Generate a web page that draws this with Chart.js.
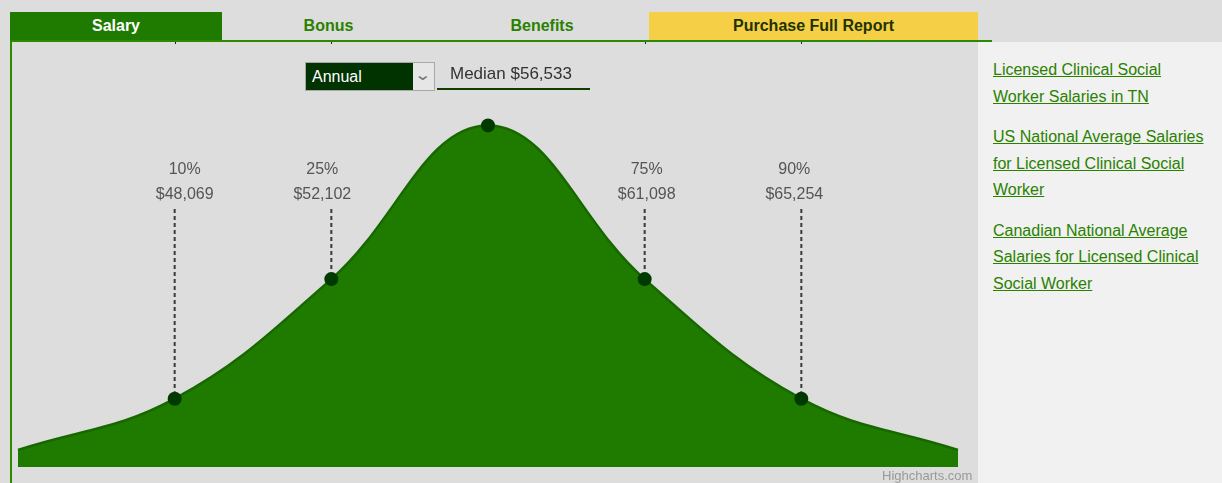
<!DOCTYPE html>
<html>
<head>
<meta charset="utf-8">
<script src="https://cdn.jsdelivr.net/npm/chart.js@4/dist/chart.umd.min.js"></script>
<style>
  html, body { margin: 0; padding: 0; }
  body { width: 1222px; height: 483px; background: #dddddd; font-family: Arial, "Liberation Sans", sans-serif; position: relative; overflow: hidden; }
  .tabs { position: absolute; left: 10px; top: 12px; width: 968px; height: 28px; }
  .tab { position: absolute; top: 0; height: 28px; line-height: 28px; text-align: center; font-weight: bold; font-size: 16px; }
  .tab.active { background: #1e7b00; color: #fff; }
  .tab.plain { color: #2a8100; }
  .tab.buy { background: #f5cf45; color: #1f3300; }
  .rule { position: absolute; left: 10px; top: 40px; width: 982px; height: 2px; background: #2c8a00; }
  .vrule { position: absolute; left: 10px; top: 40px; width: 2px; height: 443px; background: #2c8a00; }
  .side { position: absolute; left: 978px; top: 42px; width: 244px; height: 441px; background: #f1f1f1; }
  .side a { display: block; margin: 0 0 14px 15px; width: 220px; color: #2a8100; font-size: 16px; line-height: 26.5px; text-decoration: underline; }
  .side .first { margin-top: 15px; }
  #wrap { position: absolute; left: 10px; top: 40px; width: 968px; height: 443px; }
  .select { position: absolute; left: 305px; top: 62px; width: 128px; height: 27px; border: 1px solid #a8a8a8; background: #e6e6e6; }
  .select .val { position: absolute; left: 0; top: 0; width: 107px; height: 27px; background: #003300; color: #fff; font-size: 16px; line-height: 28px; padding-left: 6px; box-sizing: border-box; }
  .select .chev { position: absolute; right: 5px; top: 2px; color: #777; font-size: 16px; transform: scaleX(1.3); }
  .median { position: absolute; left: 437px; top: 62px; width: 153px; height: 26px; border-bottom: 2px solid #0f3d00; color: #333; font-size: 17px; line-height: 24px; text-indent: 13px; }
  .credit { position: absolute; left: 882px; top: 468px; font-size: 13px; color: #999; }
</style>
</head>
<body>
<div class="tabs">
  <div class="tab active" style="left:0;width:212px;">Salary</div>
  <div class="tab plain" style="left:212px;width:213px;">Bonus</div>
  <div class="tab plain" style="left:425px;width:214px;">Benefits</div>
  <div class="tab buy" style="left:639px;width:329px;">Purchase Full Report</div>
</div>
<div id="wrap"><canvas id="chart"></canvas></div>
<div class="rule"></div>
<div class="vrule"></div>
<div class="select"><div class="val">Annual</div><div class="chev">&#8964;</div></div>
<div class="median">Median $56,533</div>
<div class="side">
  <a class="first">Licensed Clinical Social Worker Salaries in TN</a>
  <a>US National Average Salaries for Licensed Clinical Social Worker</a>
  <a>Canadian National Average Salaries for Licensed Clinical Social Worker</a>
</div>
<div class="credit">Highcharts.com</div>
<script>
// salary distribution: percentile marks along the curve
const percentiles = ['', '10%', '25%', '50%', '75%', '90%', ''];
const salaries = ['', '$48,069', '$52,102', '$56,533', '$61,098', '$65,254', ''];
const curveHeights = [0.05, 0.2, 0.55, 1.0, 0.55, 0.2, 0.05];
const labelled = [false, true, true, false, true, true, false];
// label nudges (px), the labels don't sit exactly over their lines
const labelShift = [0, 10, -9, 0, 2, -7, 0];

const dropLines = {
  id: 'dropLines',
  afterDatasetsDraw(chart) {
    const ctx = chart.ctx;
    const meta = chart.getDatasetMeta(0);
    ctx.save();
    meta.data.forEach((pt, i) => {
      if (percentiles[i] && i !== 3) {
        // tick on the top rule
        ctx.strokeStyle = '#222';
        ctx.lineWidth = 1;
        ctx.beginPath();
        ctx.moveTo(Math.round(pt.x) + 0.5, 0);
        ctx.lineTo(Math.round(pt.x) + 0.5, 4);
        ctx.stroke();
      }
      if (!labelled[i]) return;
      ctx.strokeStyle = '#3a3a3a';
      ctx.lineWidth = 2;
      ctx.setLineDash([4, 3]);
      ctx.beginPath();
      ctx.moveTo(pt.x, 169);
      ctx.lineTo(pt.x, pt.y - 7);
      ctx.stroke();
      ctx.setLineDash([]);
      ctx.fillStyle = '#555';
      ctx.font = '16px Arial, "Liberation Sans", sans-serif';
      ctx.textAlign = 'center';
      ctx.textBaseline = 'middle';
      const lx = pt.x + labelShift[i];
      ctx.fillText(percentiles[i], lx, 130);
      ctx.fillText(salaries[i], lx, 155);
    });
    ctx.restore();
  }
};

new Chart(document.getElementById('chart'), {
  type: 'line',
  data: {
    labels: percentiles,
    datasets: [{
      data: curveHeights,
      borderColor: '#186800',
      borderWidth: 2.5,
      backgroundColor: '#1e7b00',
      fill: 'origin',
      tension: 0.4,
      pointRadius: percentiles.map(p => p ? 7 : 0),
      pointBackgroundColor: '#003a00',
      pointBorderWidth: 0,
    }],
  },
  options: {
    responsive: true,
    maintainAspectRatio: false,
    animation: false,
    layout: { padding: { left: 8, right: 20, top: 0, bottom: 16 } },
    plugins: { legend: { display: false }, tooltip: { enabled: false } },
    scales: {
      x: { display: false, offset: false },
      y: { display: false, min: 0, max: 1.25 },
    },
  },
  plugins: [dropLines],
});
</script>
</body>
</html>
